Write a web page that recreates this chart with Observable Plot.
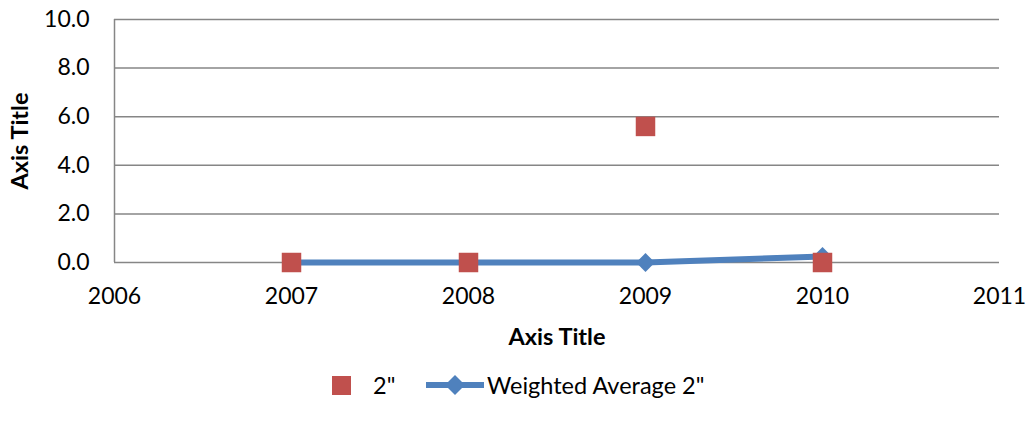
<!DOCTYPE html>
<html>
<head>
<meta charset="utf-8">
<script src="https://cdn.jsdelivr.net/npm/d3@7"></script>
<script src="https://cdn.jsdelivr.net/npm/@observablehq/plot@0.6"></script>
<style>
  html, body { margin: 0; padding: 0; background: #fff; }
  body { width: 1033px; height: 427px; overflow: hidden; font-family: Lato, "Open Sans", sans-serif; }
  #legend { position: relative; height: 77px; }
  #legend .item { position: absolute; top: 23px; height: 24px; display: flex; align-items: center; font-size: 23.5px; color: #000; }
</style>
</head>
<body>
<div id="chart"></div>
<div id="legend"></div>
<script>
const years = [2007, 2008, 2009, 2010];
const values2in = [0.0, 0.0, 5.6, 0.0];
const weightedAvg2in = [0.0, 0.0, 0.0, 0.25];
const xTicks = [2006, 2007, 2008, 2009, 2010, 2011];
const yTicks = [0, 2, 4, 6, 8, 10];
const seriesNames = ['2"', 'Weighted Average 2"'];
const axisTitleX = "Axis Title";
const axisTitleY = "Axis Title";

const red = "#C0504D";
const blue = "#4F81BD";
const grid = "#868686";

const dataSq = years.map((y, i) => ({year: y, value: values2in[i]}));
const dataAvg = years.map((y, i) => ({year: y, value: weightedAvg2in[i]}));

const chart = Plot.plot({
  width: 1033,
  height: 350,
  marginLeft: 114,
  marginRight: 34,
  marginTop: 19,
  marginBottom: 88,
  style: { fontFamily: "Lato, 'Open Sans', sans-serif", fontSize: "23px", color: "#000", background: "#fff" },
  x: { domain: [2006, 2011], ticks: xTicks, tickFormat: d3.format("d"), label: null },
  y: { domain: [0, 10], ticks: yTicks, tickFormat: d => d.toFixed(1), label: null },
  marks: [
    Plot.ruleY(yTicks, { stroke: grid, strokeWidth: 1.5 }),
    Plot.ruleX([2006], { y1: 0, y2: 10, stroke: grid, strokeWidth: 1.5 }),
    Plot.axisX({ ticks: xTicks, tickFormat: d3.format("d"), tickSize: 0, tickPadding: 25, label: null, fontSize: 23 }),
    Plot.axisY({ ticks: yTicks, tickFormat: d => d.toFixed(1), tickSize: 0, tickPadding: 25, label: null, fontSize: 23 }),
    Plot.line(dataAvg, { x: "year", y: "value", stroke: blue, strokeWidth: 6 }),
    Plot.dot(dataAvg, { x: "year", y: "value", symbol: "diamond2", r: 8.5, fill: blue, stroke: null }),
    Plot.dot(dataSq, { x: "year", y: "value", symbol: "square", r: 11, fill: red, stroke: null }),
    Plot.text([axisTitleX], { frameAnchor: "bottom", dy: 75, lineAnchor: "middle", textAnchor: "middle", fontWeight: "bold", fontSize: 23.5 }),
    Plot.text([axisTitleY], { frameAnchor: "left", dx: -94, rotate: -90, lineAnchor: "middle", textAnchor: "middle", fontWeight: "bold", fontSize: 23.5 })
  ]
});
document.getElementById("chart").appendChild(chart);

const legend = document.getElementById("legend");
legend.innerHTML = `
  <div class="item" style="left:332px">
    <svg width="19" height="19"><rect x="0" y="0" width="19" height="19" fill="${red}"/></svg>
    <span style="margin-left:22px">${seriesNames[0]}</span>
  </div>
  <div class="item" style="left:426px">
    <svg width="58" height="22"><line x1="0" y1="11" x2="58" y2="11" stroke="${blue}" stroke-width="6"/><path d="M29,1 L39,11 L29,21 L19,11 Z" fill="${blue}"/></svg>
    <span style="margin-left:3px">${seriesNames[1]}</span>
  </div>`;
</script>
</body>
</html>
